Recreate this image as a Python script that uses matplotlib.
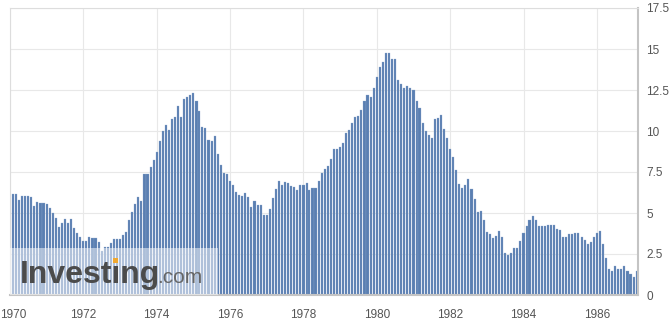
import matplotlib
matplotlib.use('Agg')

import pandas as pd
import numpy as np
import matplotlib.pyplot as plt
import matplotlib.dates as mdates
import matplotlib.ticker as ticker
import matplotlib.transforms as mtransforms
from matplotlib.patches import Rectangle

# === Data (monthly YoY %, Jan 1970 .. Jan 1987, dated one month later) ===
start_date = '1970-02-01'
values = [
    6.18, 6.15, 5.82, 6.06, 6.04, 6.01, 5.98, 5.41, 5.66, 5.63, 5.60, 5.57,   # 1970
    5.29, 5.00, 4.71, 4.16, 4.40, 4.64, 4.36, 4.62, 4.08, 3.81, 3.54, 3.27,   # 1971
    3.27, 3.51, 3.50, 3.49, 3.23, 2.71, 2.95, 2.94, 3.19, 3.42, 3.41, 3.41,   # 1972
    3.65, 3.87, 4.59, 5.06, 5.53, 6.00, 5.73, 7.38, 7.36, 7.80, 8.25, 8.71,   # 1973
    9.39, 10.02, 10.39, 10.09, 10.71, 10.86, 11.51, 10.86, 11.95, 12.06, 12.20, 12.34,  # 1974
    11.80, 11.23, 10.25, 10.21, 9.47, 9.39, 9.72, 8.60, 7.91, 7.44, 7.38, 6.94,  # 1975
    6.72, 6.29, 6.07, 6.05, 6.20, 5.97, 5.35, 5.71, 5.49, 5.46, 4.88, 4.86,   # 1976
    5.22, 5.91, 6.44, 6.95, 6.73, 6.87, 6.83, 6.62, 6.60, 6.39, 6.72, 6.70,   # 1977
    6.84, 6.43, 6.55, 6.50, 6.97, 7.41, 7.70, 7.84, 8.31, 8.93, 8.89, 9.02,   # 1978
    9.28, 9.86, 10.09, 10.49, 10.85, 10.89, 11.26, 11.82, 12.18, 12.07, 12.61, 13.29,  # 1979
    13.91, 14.18, 14.76, 14.73, 14.41, 14.38, 13.13, 12.87, 12.60, 12.77, 12.65, 12.52,  # 1980
    11.83, 11.41, 10.49, 10.00, 9.78, 9.55, 10.76, 10.80, 10.95, 10.14, 9.59, 8.92,  # 1981
    8.39, 7.62, 6.78, 6.51, 6.68, 7.06, 6.44, 5.85, 5.04, 5.14, 4.59, 3.83,   # 1982
    3.71, 3.49, 3.60, 3.90, 3.55, 2.58, 2.46, 2.56, 2.86, 2.85, 3.27, 3.79,   # 1983
    4.19, 4.60, 4.80, 4.56, 4.23, 4.22, 4.20, 4.29, 4.27, 4.26, 4.05, 3.95,   # 1984
    3.53, 3.52, 3.70, 3.69, 3.77, 3.76, 3.55, 3.35, 3.14, 3.23, 3.51, 3.80,   # 1985
    3.89, 3.11, 2.26, 1.59, 1.49, 1.77, 1.58, 1.57, 1.75, 1.47, 1.28, 1.10,   # 1986
    1.46,                                                                     # 1987
]
y_ticks = [0, 2.5, 5, 7.5, 10, 12.5, 15, 17.5]
y_tick_labels = ['0', '2.5', '5', '7.5', '10', '12.5', '15', '17.5']
x_tick_years = list(range(1970, 1988, 2))

dates = pd.date_range(start_date, periods=len(values), freq='MS')

# === Figure ===
plt.rcParams['font.family'] = ['Liberation Sans', 'DejaVu Sans']
fig = plt.figure(figsize=(6.7, 3.29), dpi=100)
ax = fig.add_axes([10 / 670, 34 / 329, 628 / 670, 287 / 329])

ax.bar(dates, values, width=21, color='#5a7fb1', edgecolor='#8fa9cf',
       linewidth=0.2, zorder=2)

ax.set_xlim(pd.Timestamp('1970-01-01'), pd.Timestamp('1987-02-14'))
ax.set_ylim(0, 17.5)

ax.xaxis.set_major_locator(ticker.FixedLocator(
    [mdates.date2num(pd.Timestamp(f'{y}-01-01')) for y in x_tick_years]))
ax.xaxis.set_major_formatter(ticker.FixedFormatter([str(y) for y in x_tick_years]))
ax.yaxis.tick_right()
ax.set_yticks(y_ticks)
ax.set_yticklabels(y_tick_labels)
ax.tick_params(axis='x', length=0, pad=10, labelsize=8.5, colors='#555555')
ax.tick_params(axis='y', length=0, pad=6, labelsize=8.5, colors='#555555')

# first year label sits against the left edge
first_lbl = ax.get_xticklabels()[0]
first_lbl.set_horizontalalignment('left')
first_lbl.set_transform(first_lbl.get_transform() +
                        mtransforms.ScaledTranslation(-0.10, 0, fig.dpi_scale_trans))

ax.grid(True, color='#e8e8e8', linewidth=0.8, zorder=0)
ax.set_axisbelow(True)
for side in ['left', 'top']:
    ax.spines[side].set_color('#dddddd')
    ax.spines[side].set_linewidth(0.8)
for side in ['right', 'bottom']:
    ax.spines[side].set_color('#c4c4c4')
    ax.spines[side].set_linewidth(1.5)

# === Watermark ===
ax.add_patch(Rectangle((0, 0), 208 / 628, 47 / 287, transform=ax.transAxes,
                       facecolor='white', alpha=0.5, edgecolor='none', zorder=3))
fig.text(20 / 670, (329 - 283) / 329, 'Investing', fontsize=23, fontweight='bold',
         color='#4b4b4b', va='baseline', ha='left', zorder=4)
fig.text(157 / 670, (329 - 283) / 329, '.com', fontsize=15,
         color='#666666', va='baseline', ha='left', zorder=4)
fig.patches.append(Rectangle((113 / 670, (329 - 263) / 329), 5 / 670, 5 / 329,
                             transform=fig.transFigure, facecolor='#f0a830',
                             edgecolor='none', zorder=5))

fig.savefig('out.png', dpi=100)
